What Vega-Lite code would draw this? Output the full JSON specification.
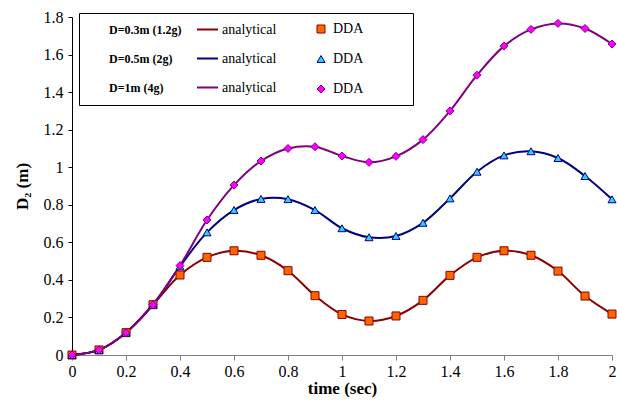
{
  "$schema": "https://vega.github.io/schema/vega-lite/v6.json",
  "width": 540,
  "height": 338,
  "autosize": {"type": "none"},
  "padding": {"left": 72, "top": 17, "right": 5, "bottom": 51},
  "background": "white",
  "config": {
    "view": {"stroke": null},
    "font": "Liberation Serif",
    "axis": {"labelFont": "Liberation Serif", "titleFont": "Liberation Serif", "grid": false, "labelColor": "black", "titleColor": "black"}
  },
  "data": {
    "values": [
      {"t": 0.0, "d": 0.0, "case": "D=0.3m (1.2g)"},
      {"t": 0.1, "d": 0.027, "case": "D=0.3m (1.2g)"},
      {"t": 0.2, "d": 0.119, "case": "D=0.3m (1.2g)"},
      {"t": 0.3, "d": 0.268, "case": "D=0.3m (1.2g)"},
      {"t": 0.4, "d": 0.426, "case": "D=0.3m (1.2g)"},
      {"t": 0.5, "d": 0.52, "case": "D=0.3m (1.2g)"},
      {"t": 0.6, "d": 0.555, "case": "D=0.3m (1.2g)"},
      {"t": 0.7, "d": 0.531, "case": "D=0.3m (1.2g)"},
      {"t": 0.8, "d": 0.449, "case": "D=0.3m (1.2g)"},
      {"t": 0.9, "d": 0.316, "case": "D=0.3m (1.2g)"},
      {"t": 1.0, "d": 0.216, "case": "D=0.3m (1.2g)"},
      {"t": 1.1, "d": 0.181, "case": "D=0.3m (1.2g)"},
      {"t": 1.2, "d": 0.208, "case": "D=0.3m (1.2g)"},
      {"t": 1.3, "d": 0.291, "case": "D=0.3m (1.2g)"},
      {"t": 1.4, "d": 0.424, "case": "D=0.3m (1.2g)"},
      {"t": 1.5, "d": 0.52, "case": "D=0.3m (1.2g)"},
      {"t": 1.6, "d": 0.555, "case": "D=0.3m (1.2g)"},
      {"t": 1.7, "d": 0.531, "case": "D=0.3m (1.2g)"},
      {"t": 1.8, "d": 0.447, "case": "D=0.3m (1.2g)"},
      {"t": 1.9, "d": 0.314, "case": "D=0.3m (1.2g)"},
      {"t": 2.0, "d": 0.218, "case": "D=0.3m (1.2g)"},
      {"t": 0.0, "d": 0.0, "case": "D=0.5m (2g)"},
      {"t": 0.1, "d": 0.027, "case": "D=0.5m (2g)"},
      {"t": 0.2, "d": 0.119, "case": "D=0.5m (2g)"},
      {"t": 0.3, "d": 0.268, "case": "D=0.5m (2g)"},
      {"t": 0.4, "d": 0.472, "case": "D=0.5m (2g)"},
      {"t": 0.5, "d": 0.653, "case": "D=0.5m (2g)"},
      {"t": 0.6, "d": 0.772, "case": "D=0.5m (2g)"},
      {"t": 0.7, "d": 0.831, "case": "D=0.5m (2g)"},
      {"t": 0.8, "d": 0.83, "case": "D=0.5m (2g)"},
      {"t": 0.9, "d": 0.772, "case": "D=0.5m (2g)"},
      {"t": 1.0, "d": 0.675, "case": "D=0.5m (2g)"},
      {"t": 1.1, "d": 0.627, "case": "D=0.5m (2g)"},
      {"t": 1.2, "d": 0.634, "case": "D=0.5m (2g)"},
      {"t": 1.3, "d": 0.704, "case": "D=0.5m (2g)"},
      {"t": 1.4, "d": 0.834, "case": "D=0.5m (2g)"},
      {"t": 1.5, "d": 0.976, "case": "D=0.5m (2g)"},
      {"t": 1.6, "d": 1.063, "case": "D=0.5m (2g)"},
      {"t": 1.7, "d": 1.085, "case": "D=0.5m (2g)"},
      {"t": 1.8, "d": 1.049, "case": "D=0.5m (2g)"},
      {"t": 1.9, "d": 0.953, "case": "D=0.5m (2g)"},
      {"t": 2.0, "d": 0.829, "case": "D=0.5m (2g)"},
      {"t": 0.0, "d": 0.0, "case": "D=1m (4g)"},
      {"t": 0.1, "d": 0.027, "case": "D=1m (4g)"},
      {"t": 0.2, "d": 0.119, "case": "D=1m (4g)"},
      {"t": 0.3, "d": 0.268, "case": "D=1m (4g)"},
      {"t": 0.4, "d": 0.476, "case": "D=1m (4g)"},
      {"t": 0.5, "d": 0.719, "case": "D=1m (4g)"},
      {"t": 0.6, "d": 0.905, "case": "D=1m (4g)"},
      {"t": 0.7, "d": 1.033, "case": "D=1m (4g)"},
      {"t": 0.8, "d": 1.1, "case": "D=1m (4g)"},
      {"t": 0.9, "d": 1.109, "case": "D=1m (4g)"},
      {"t": 1.0, "d": 1.06, "case": "D=1m (4g)"},
      {"t": 1.1, "d": 1.026, "case": "D=1m (4g)"},
      {"t": 1.2, "d": 1.058, "case": "D=1m (4g)"},
      {"t": 1.3, "d": 1.147, "case": "D=1m (4g)"},
      {"t": 1.4, "d": 1.3, "case": "D=1m (4g)"},
      {"t": 1.5, "d": 1.49, "case": "D=1m (4g)"},
      {"t": 1.6, "d": 1.645, "case": "D=1m (4g)"},
      {"t": 1.7, "d": 1.734, "case": "D=1m (4g)"},
      {"t": 1.8, "d": 1.766, "case": "D=1m (4g)"},
      {"t": 1.9, "d": 1.739, "case": "D=1m (4g)"},
      {"t": 2.0, "d": 1.656, "case": "D=1m (4g)"}
    ]
  },
  "encoding": {
    "x": {
      "field": "t", "type": "quantitative",
      "scale": {"domain": [0, 2], "nice": false, "zero": false},
      "axis": {
        "title": "time (sec)", "titleFontSize": 17, "titleFontWeight": "bold", "titlePadding": 1,
        "values": [0, 0.2, 0.4, 0.6, 0.8, 1, 1.2, 1.4, 1.6, 1.8, 2], "format": "~g",
        "labelFontSize": 16, "labelPadding": 3, "labelFlush": false, "labelOverlap": false,
        "domainColor": "#808080", "tickColor": "#808080", "tickSize": 5, "domainWidth": 1
      }
    },
    "y": {
      "field": "d", "type": "quantitative",
      "scale": {"domain": [0, 1.8], "nice": false},
      "axis": {
        "title": "D₂ (m)", "titleFontSize": 17, "titleFontWeight": "bold", "titlePadding": 12,
        "values": [0, 0.2, 0.4, 0.6, 0.8, 1, 1.2, 1.4, 1.6, 1.8], "format": "~g",
        "labelFontSize": 16, "labelPadding": 5, "labelFlush": false, "labelOverlap": false,
        "domainColor": "black", "tickColor": "black", "tickSize": 4, "domainWidth": 1
      }
    }
  },
  "layer": [
    {
      "mark": {"type": "line", "interpolate": "catmull-rom", "strokeWidth": 2},
      "encoding": {
        "stroke": {
          "field": "case", "type": "nominal",
          "scale": {"domain": ["D=0.3m (1.2g)", "D=0.5m (2g)", "D=1m (4g)"], "range": ["#8B0000", "#000080", "#800080"]},
          "legend": {
            "orient": "none", "legendX": 124, "legendY": 1, "title": null, "padding": 0,
            "symbolType": "stroke", "symbolSize": 441, "symbolStrokeWidth": 2,
            "labelExpr": "'analytical'",
            "labelFont": "Liberation Serif", "labelFontSize": 14, "labelOffset": 3, "labelColor": "black",
            "rowPadding": 10
          }
        }
      }
    },
    {
      "mark": {"type": "point", "filled": true, "size": 64, "strokeWidth": 1, "opacity": 1},
      "encoding": {
        "stroke": {"field": "case", "type": "nominal", "legend": null},
        "fill": {
          "field": "case", "type": "nominal",
          "scale": {"range": ["#FF6600", "#33CCFF", "#FF00FF"]},
          "legend": {
            "orient": "none", "legendX": 7, "legendY": -4,
            "strokeColor": "black", "padding": 9,
            "title": ["\u2800\u2800 D=0.3m (1.2g)", "\u2800\u2800 D=0.5m (2g)", "\u2800\u2800 D=1m (4g)"],
            "titleOrient": "left", "titleAnchor": "middle", "titleBaseline": "middle", "titleAlign": "left",
            "titleFont": "Liberation Serif", "titleFontWeight": "bold", "titleFontSize": 12, "titleLineHeight": 29,
            "titlePadding": 132, "titleColor": "black",
            "labelExpr": "pad('DDA', 7, '\u2800')", "labelFont": "Liberation Serif", "labelFontSize": 14, "labelOffset": 5, "labelColor": "black", "labelLimit": 300,
            "symbolSize": 64, "symbolStrokeWidth": 1, "symbolOpacity": 1, "rowPadding": 16,
            "encode": {"symbols": {"update": {"stroke": {"signal": "scale('stroke', datum.value)"}, "strokeWidth": {"value": 1}}}}
          }
        },
        "shape": {
          "field": "case", "type": "nominal",
          "scale": {"range": ["square", "triangle-up", "diamond"]},
          "legend": {
            "orient": "none", "legendX": 7, "legendY": -4,
            "strokeColor": "black", "padding": 9,
            "title": ["\u2800\u2800 D=0.3m (1.2g)", "\u2800\u2800 D=0.5m (2g)", "\u2800\u2800 D=1m (4g)"],
            "titleOrient": "left", "titleAnchor": "middle", "titleBaseline": "middle", "titleAlign": "left",
            "titleFont": "Liberation Serif", "titleFontWeight": "bold", "titleFontSize": 12, "titleLineHeight": 29,
            "titlePadding": 132, "titleColor": "black",
            "labelExpr": "pad('DDA', 7, '\u2800')", "labelFont": "Liberation Serif", "labelFontSize": 14, "labelOffset": 5, "labelColor": "black", "labelLimit": 300,
            "symbolSize": 64, "symbolStrokeWidth": 1, "symbolOpacity": 1, "rowPadding": 16
          }
        }
      }
    }
  ]
}
